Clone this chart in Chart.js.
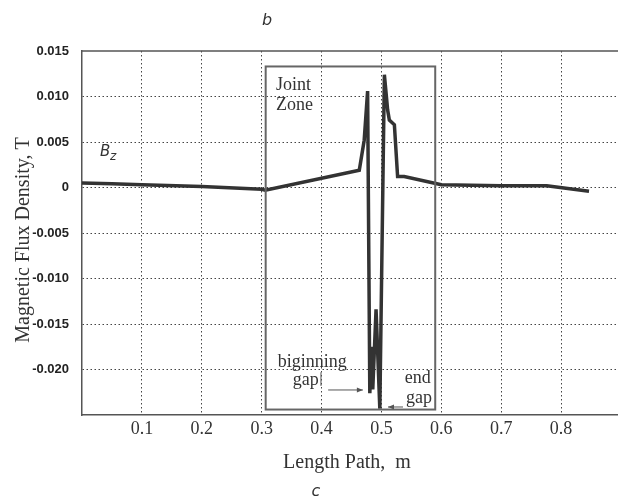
<!DOCTYPE html>
<html>
<head>
<meta charset="utf-8">
<script src="https://cdn.jsdelivr.net/npm/chart.js@4"></script>
<style>
  html, body { margin: 0; padding: 0; background: #fff; }
  canvas { display: block; }
</style>
</head>
<body>
<canvas id="chartFlux" width="618" height="500"></canvas>
<script>
// length path (m) and Bz (T)
const pathX = [0, 0.05, 0.1, 0.2, 0.3, 0.306, 0.463, 0.4712, 0.4769, 0.4806, 0.4835, 0.4855, 0.491, 0.4973,
               0.5049, 0.5104, 0.5132, 0.5216, 0.527, 0.538, 0.6, 0.7, 0.776, 0.8466];
const bz = [0.0005, 0.0004, 0.0003, 0.0001, -0.0002, -0.0003, 0.0019, 0.0052, 0.0106, -0.0226, -0.0175, -0.0222, -0.0134, -0.0243,
            0.0124, 0.0085, 0.0074, 0.0069, 0.0012, 0.0012, 0.0003, 0.0002, 0.0002, -0.0004];

const xTicks = [0.1, 0.2, 0.3, 0.4, 0.5, 0.6, 0.7, 0.8];
const yTicks = [0.015, 0.010, 0.005, 0, -0.005, -0.010, -0.015, -0.020, -0.025];
const yLabels = ['0.015', '0.010', '0.005', '0', '-0.005', '-0.010', '-0.015', '-0.020', ''];

// joint zone box (data units)
const zoneX = [0.3067, 0.5898];
const zoneY = [-0.0244, 0.0133];

const serif = '"Liberation Serif", "Times New Roman", serif';
const ink = '#333';

const decor = {
  id: 'decor',
  afterDraw(chart) {
    const { ctx, chartArea: a, scales: { x, y } } = chart;
    const px = v => x.getPixelForValue(v);
    const py = v => y.getPixelForValue(v);
    ctx.save();

    // top frame line
    ctx.strokeStyle = '#555';
    ctx.lineWidth = 1.5;
    ctx.beginPath();
    ctx.moveTo(a.left, a.top);
    ctx.lineTo(a.right, a.top);
    ctx.stroke();

    // joint zone rectangle
    ctx.strokeStyle = '#666';
    ctx.lineWidth = 2;
    ctx.strokeRect(px(zoneX[0]), py(zoneY[1]), px(zoneX[1]) - px(zoneX[0]), py(zoneY[0]) - py(zoneY[1]));

    ctx.fillStyle = ink;
    ctx.font = '18px ' + serif;
    ctx.textAlign = 'left';
    ctx.textBaseline = 'middle';
    ctx.fillText('Joint', px(0.324), py(0.01126));
    ctx.fillText('Zone', px(0.324), py(0.00907));
    ctx.fillText('biginning', px(0.327), py(-0.01918));
    ctx.fillText('gap', px(0.352), py(-0.02115));
    ctx.fillText('end', px(0.539), py(-0.02093));
    ctx.fillText('gap', px(0.541), py(-0.02313));

    // small leaders and arrows
    ctx.strokeStyle = '#555';
    ctx.lineWidth = 1;
    ctx.beginPath();
    ctx.moveTo(px(0.399), py(-0.0203));
    ctx.lineTo(px(0.399), py(-0.0218));
    ctx.stroke();
    const arrow = (x0, x1, yv) => {
      const ya = py(yv), xa = px(x0), xb = px(x1);
      const d = Math.sign(xb - xa);
      ctx.beginPath();
      ctx.moveTo(xa, ya);
      ctx.lineTo(xb, ya);
      ctx.stroke();
      ctx.beginPath();
      ctx.moveTo(xb, ya);
      ctx.lineTo(xb - d * 6, ya - 2.5);
      ctx.lineTo(xb - d * 6, ya + 2.5);
      ctx.closePath();
      ctx.fillStyle = '#555';
      ctx.fill();
    };
    arrow(0.411, 0.469, -0.02225);
    arrow(0.536, 0.511, -0.02412);

    // Bz label
    ctx.fillStyle = ink;
    ctx.font = 'italic 15px "DejaVu Sans", sans-serif';
    ctx.fillText('B', px(0.03), py(0.0039));
    ctx.font = 'italic 12px "DejaVu Sans", sans-serif';
    ctx.fillText('z', px(0.03) + 10, py(0.0034));

    // axis titles
    ctx.font = '20px ' + serif;
    ctx.textAlign = 'center';
    ctx.fillText('Length Path,  m', 347, 463);
    ctx.save();
    ctx.translate(24, 240);
    ctx.rotate(-Math.PI / 2);
    ctx.fillText('Magnetic Flux Density, T', 0, 0);
    ctx.restore();

    // panel letters
    ctx.font = 'italic 16px "DejaVu Sans", sans-serif';
    ctx.fillText('b', 267, 21);
    ctx.fillText('c', 316, 492);
    ctx.restore();
  }
};

new Chart(document.getElementById('chartFlux'), {
  type: 'line',
  data: {
    datasets: [{
      label: 'Bz',
      data: pathX.map((v, i) => ({ x: v, y: bz[i] })),
      borderColor: '#333',
      borderWidth: 3.5,
      pointRadius: 0,
      tension: 0,
      fill: false
    }]
  },
  options: {
    responsive: false,
    animation: false,
    layout: { padding: { top: 51, left: 0, right: 0, bottom: 0 } },
    plugins: { legend: { display: false }, tooltip: { enabled: false } },
    scales: {
      x: {
        type: 'linear',
        min: 0,
        max: 0.895,
        afterFit: s => { s.height = 85; },
        afterBuildTicks: s => { s.ticks = xTicks.map(v => ({ value: v })); },
        grid: { color: '#444', lineWidth: 1, drawTicks: false },
        border: { color: '#555', width: 1.5, dash: [1.5, 2.5] },
        ticks: {
          padding: 3,
          color: ink,
          font: { family: serif, size: 18 },
          callback: v => v.toFixed(1)
        }
      },
      y: {
        min: -0.025,
        max: 0.015,
        afterFit: s => { s.width = 82; },
        afterBuildTicks: s => { s.ticks = yTicks.map(v => ({ value: v })); },
        grid: {
          drawTicks: false,
          lineWidth: 1,
          color: c => (c.tick && (c.tick.value === 0.015 || c.tick.value === -0.025)) ? 'rgba(0,0,0,0)' : '#444'
        },
        border: { color: '#555', width: 1.5, dash: [1.5, 2.5] },
        ticks: {
          padding: 13,
          color: '#222',
          font: { family: '"Liberation Sans", sans-serif', size: 13, weight: 'bold' },
          callback: v => yLabels[yTicks.indexOf(v)]
        }
      }
    }
  },
  plugins: [decor]
});
</script>
</body>
</html>
